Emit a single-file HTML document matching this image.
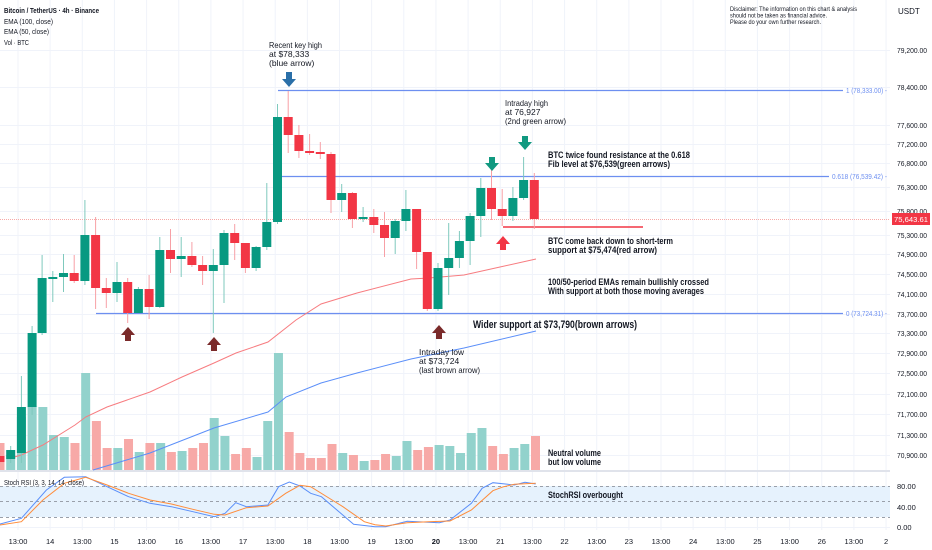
<!DOCTYPE html>
<html><head><meta charset="utf-8"><style>
html,body{margin:0;padding:0;background:#fff;}
svg{display:block;font-family:"Liberation Sans",sans-serif;}
</style></head><body>
<svg id="s" width="932" height="550" viewBox="0 0 932 550" xmlns="http://www.w3.org/2000/svg">
<rect width="932" height="550" fill="#fff"/>
<g id="grid" stroke="#f0f3fa" stroke-width="1"></g>
<rect x="0" y="486" width="890" height="31" fill="#e6f2fd"/>
<g stroke="#9aa0aa" stroke-width="1" stroke-dasharray="3,3">
<line x1="0" y1="486.5" x2="890" y2="486.5"/><line x1="0" y1="501.5" x2="890" y2="501.5"/><line x1="0" y1="517.5" x2="890" y2="517.5"/>
</g>
<line x1="0" y1="471" x2="890" y2="471" stroke="#e0e3eb" stroke-width="2"/>
<g id="vol"></g>
<line x1="0" y1="219.5" x2="890" y2="219.5" stroke="#f7a9a7" stroke-width="1" stroke-dasharray="1,1"/>
<g stroke="#6d8ff0" stroke-width="1.3">
<line x1="278" y1="90.5" x2="843" y2="90.5"/>
<line x1="282" y1="176.5" x2="829" y2="176.5"/>
<line x1="96" y1="313.5" x2="843" y2="313.5"/>
</g>
<g fill="#6d8ff0" font-size="7">
<text x="846" y="93" textLength="41" lengthAdjust="spacingAndGlyphs">1 (78,333.00) -</text>
<text x="832" y="179" textLength="55" lengthAdjust="spacingAndGlyphs">0.618 (76,539.42) -</text>
<text x="846" y="316" textLength="41" lengthAdjust="spacingAndGlyphs">0 (73,724.31) -</text>
</g>
<line x1="503" y1="227" x2="643" y2="227" stroke="#f23645" stroke-width="1.5"/>
<polyline fill="none" stroke="#f77c80" stroke-width="1" points="10.7,458 21.4,455 42.9,445 75,425 85.7,417 107,407 150,392 182,377 214,363 236,353 268,342 296,320 321,304 357,293 411,279 429,278 464,275 500,267 536,259"/>
<polyline fill="none" stroke="#5b8ff9" stroke-width="1" points="93,470 150,453 214,428 268,412 286,397 321,383 357,373 411,359 464,348 536,331"/>
<g id="cdl"></g>
<polyline fill="none" stroke="#5b8ff9" stroke-width="1" id="k"/>
<polyline fill="none" stroke="#ff8c3a" stroke-width="1" id="d"/>
<g fill="#2a6fa8"><path d="M286,72h6v7h4l-7,8l-7,-8h4z"/></g>
<g fill="#119980"><path d="M489,157h6v6h4l-7,8l-7,-8h4z"/><path d="M522,136h6v6h4l-7,8l-7,-8h4z"/></g>
<g fill="#f23645"><path d="M500,250h6v-6h4l-7,-8l-7,8h4z"/></g>
<g fill="#7a2a2a"><path d="M125,341h6v-6h4l-7,-8l-7,8h4z"/><path d="M211,351h6v-6h4l-7,-8l-7,8h4z"/><path d="M436,339h6v-6h4l-7,-8l-7,8h4z"/></g>
<g fill="#131722" font-size="7.5" lengthAdjust="spacingAndGlyphs">
<text x="4" y="13" font-weight="bold" textLength="95" lengthAdjust="spacingAndGlyphs">Bitcoin / TetherUS · 4h · Binance</text>
<text x="4" y="24" textLength="49" lengthAdjust="spacingAndGlyphs">EMA (100, close)</text>
<text x="4" y="34" textLength="45" lengthAdjust="spacingAndGlyphs">EMA (50, close)</text>
<text x="4" y="45" textLength="25" lengthAdjust="spacingAndGlyphs">Vol · BTC</text>
<text x="4" y="485" textLength="80" lengthAdjust="spacingAndGlyphs">Stoch RSI (3, 3, 14, 14, close)</text>
</g>
<g fill="#131722" font-size="6.5">
<text x="730" y="11" textLength="127" lengthAdjust="spacingAndGlyphs">Disclaimer: The information on this chart &amp; analysis</text>
<text x="730" y="17.5" textLength="97" lengthAdjust="spacingAndGlyphs">should not be taken as financial advice.</text>
<text x="730" y="24" textLength="91" lengthAdjust="spacingAndGlyphs">Please do your own further research.</text>
</g>
<g fill="#131722" font-size="8.5">
<text x="269" y="48" textLength="53" lengthAdjust="spacingAndGlyphs">Recent key high</text><text x="269" y="57">at $78,333</text><text x="269" y="66">(blue arrow)</text>
<text x="505" y="106" textLength="43" lengthAdjust="spacingAndGlyphs">Intraday high</text><text x="505" y="115">at 76,927</text><text x="505" y="124" textLength="61" lengthAdjust="spacingAndGlyphs">(2nd green arrow)</text>
<text x="419" y="355" textLength="45" lengthAdjust="spacingAndGlyphs">Intraday low</text><text x="419" y="364">at $73,724</text><text x="419" y="373" textLength="61" lengthAdjust="spacingAndGlyphs">(last brown arrow)</text>
</g>
<g fill="#131722" font-size="9" font-weight="bold">
<text x="548" y="158" textLength="142" lengthAdjust="spacingAndGlyphs">BTC twice found resistance at the 0.618</text>
<text x="548" y="167" textLength="122" lengthAdjust="spacingAndGlyphs">Fib level at $76,539(green arrows)</text>
<text x="548" y="244" textLength="125" lengthAdjust="spacingAndGlyphs">BTC come back down to short-term</text>
<text x="548" y="253" textLength="109" lengthAdjust="spacingAndGlyphs">support at $75,474(red arrow)</text>
<text x="548" y="285" textLength="161" lengthAdjust="spacingAndGlyphs">100/50-period EMAs remain bullishly crossed</text>
<text x="548" y="294" textLength="156" lengthAdjust="spacingAndGlyphs">With support at both those moving averages</text>
<text x="548" y="456" textLength="53" lengthAdjust="spacingAndGlyphs">Neutral volume</text>
<text x="548" y="465" textLength="53" lengthAdjust="spacingAndGlyphs">but low volume</text>
<text x="548" y="498" textLength="75" lengthAdjust="spacingAndGlyphs">StochRSI overbought</text>
<text x="473" y="328" font-size="11" textLength="164" lengthAdjust="spacingAndGlyphs">Wider support at $73,790(brown arrows)</text>
</g>
<rect x="890" y="0" width="42" height="550" fill="#fff"/>
<g id="ax" fill="#131722" font-size="7.5"></g>
<rect x="892" y="213" width="38" height="12" fill="#f23645"/>
<text x="911" y="222" fill="#fff" font-size="7.5" text-anchor="middle" textLength="34" lengthAdjust="spacingAndGlyphs">75,643.61</text>
<text x="898" y="14" fill="#131722" font-size="8">USDT</text>
</svg>
<script>
var NS="http://www.w3.org/2000/svg";
function el(p,t,a,txt){var e=document.createElementNS(NS,t);for(var k in a)e.setAttribute(k,a[k]);if(txt!=null)e.textContent=txt;p.appendChild(e);return e;}
var G=document.getElementById('grid'),A=document.getElementById('ax');
var py=[["79,200.00",50],["78,400.00",87],["77,600.00",125],["77,200.00",144],["76,800.00",163],["76,300.00",187],["75,800.00",211],["75,300.00",235],["74,900.00",254],["74,500.00",274],["74,100.00",294],["73,700.00",314],["73,300.00",333],["72,900.00",353],["72,500.00",373],["72,100.00",394],["71,700.00",414],["71,300.00",435],["70,900.00",455],["80.00",486],["40.00",507],["0.00",527]];
py.forEach(function(p){el(G,'line',{x1:0,x2:890,y1:p[1]+.5,y2:p[1]+.5});var a={x:897,y:p[1]+3};if(p[0].length>6){a.textLength=30;a.lengthAdjust="spacingAndGlyphs";}el(A,'text',a,p[0]);});
var tl=["13:00","14","13:00","15","13:00","16","13:00","17","13:00","18","13:00","19","13:00","20","13:00","21","13:00","22","13:00","23","13:00","24","13:00","25","13:00","26","13:00","2"];
tl.forEach(function(t,i){var x=18+32.15*i;el(G,'line',{x1:x,x2:x,y1:0,y2:530});var e=el(A,'text',{x:x,y:544,'text-anchor':'middle'},t);if(t=="20")e.setAttribute('font-weight','bold');});
var V=document.getElementById('vol');
var vt=[443,455,417,406,407,435,437,443,373,421,448,448,439,452,443,443,452,451,448,443,418,436,454,448,457,421,353,432,453,458,458,444,453,455,461,460,454,456,441,450,447,445,446,453,433,428,446,454,448,444,436];
var vc=["r","g","g","g","g","g","g","r","g","r","r","g","r","g","r","g","r","g","r","r","g","g","r","r","g","g","g","r","r","r","r","r","g","r","g","r","r","g","g","r","r","g","g","g","g","g","r","r","g","g","r"];
vt.forEach(function(t,j){var x=10.71*j;el(V,'rect',{x:x-4.5,y:t,width:9,height:470-t,fill:vc[j]=="g"?"#92d2cc":"#f7a9a7"});});
var C=document.getElementById('cdl');
var cd=[[0,456,462,452,464,'r'],[10.7,450,459,446,463,'g'],[21.4,407,453,376,463,'g'],[32.1,333,407,326,415,'g']];
var d=[[278,333,255,335,'g'],[277,279,271,302,'g'],[273,277,254,292,'g'],[273,281,255,283,'r'],[235,281,200,285,'g'],[235,288,217,309,'r'],[288,293,278,308,'r'],[282,293,262,302,'g'],[282,313,278,323,'r'],[289,313,287,313,'g'],[289,307,275,319,'r'],[250,307,237,308,'g'],[250,259,229,273,'r'],[256,259,237,277,'g'],[256,265,242,267,'r'],[265,271,256,285,'r'],[265,271,249,333,'g'],[233,265,230,303,'g'],[233,243,224,260,'r'],[243,268,243,273,'r'],[247,268,246,271,'g'],[222,247,183,250,'g'],[117,222,104,224,'g'],[117,135,91,153,'r'],[135,151,125,158,'r'],[151,153,134,155,'r'],[152,154,142,159,'r'],[154,200,152,213,'r'],[193,200,184,212,'g'],[193,219,192,228,'r'],[217,219,207,222,'g'],[217,225,209,233,'r'],[225,238,212,257,'r'],[221,238,219,254,'g'],[209,221,190,231,'g'],[209,252,209,269,'r'],[252,309,252,311,'r'],[268,309,263,311,'g'],[258,268,223,295,'g'],[241,258,231,268,'g'],[216,241,213,265,'g'],[188,216,178,237,'g'],[188,209,166,220,'r'],[209,216,189,226,'r'],[198,216,187,221,'g'],[180,198,157,200,'g'],[180,219,173,229,'r']];
d.forEach(function(c,i){cd.push([42.1+10.7*i].concat(c));});
cd.forEach(function(c){var col=c[5]=='g'?'#089981':'#f23645',wc=c[5]=='g'?'#7fc9bd':'#f7a0a6';
el(C,'line',{x1:c[0],x2:c[0],y1:c[3],y2:c[4],stroke:wc,'stroke-width':1});
el(C,'rect',{x:c[0]-4.5,y:c[1],width:9,height:Math.max(1.5,c[2]-c[1]),fill:col});});
function pts(a){return a.map(function(p){return (p[0]/2.8).toFixed(1)+","+(p[1]/3+320).toFixed(1);}).join(" ");}
document.getElementById('k').setAttribute('points',pts([[0,612],[60,595],[130,510],[180,472],[240,470],[300,500],[360,530],[420,550],[480,560],[540,575],[600,590],[630,580],[660,548],[690,560],[750,555],[780,500],[810,486],[840,498],[870,520],[900,530],[990,613],[1050,620],[1080,620],[1140,604],[1200,607],[1230,608],[1260,600],[1320,550],[1350,505],[1380,488],[1440,495],[1470,487],[1500,492]]));
document.getElementById('d').setAttribute('points',pts([[0,615],[60,605],[120,540],[180,490],[240,472],[300,495],[360,520],[420,540],[480,552],[540,568],[600,583],[630,585],[690,563],[750,558],[800,520],[840,496],[870,500],[930,540],[960,560],[1020,605],[1050,614],[1080,618],[1140,608],[1200,605],[1260,603],[1320,570],[1380,512],[1410,500],[1440,493],[1500,490]]));
</script>
</body></html>
